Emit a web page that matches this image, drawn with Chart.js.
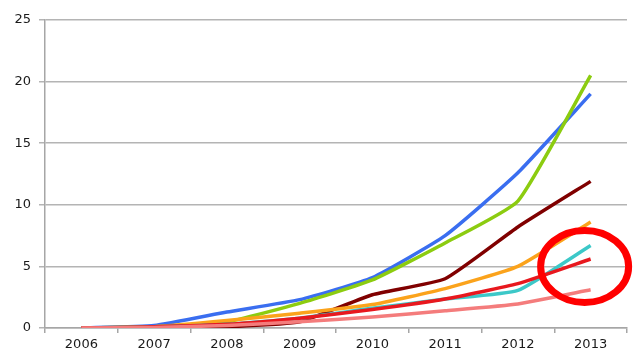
<!DOCTYPE html>
<html>
<head>
<meta charset="utf-8">
<script src="https://cdn.jsdelivr.net/npm/chart.js@4"></script>
<style>
  html, body { margin: 0; padding: 0; background: #fff; }
  #wrap { width: 640px; height: 360px; }
</style>
</head>
<body>
<div id="wrap"><canvas id="chart"></canvas></div>
<script>
const years = ["2006", "2007", "2008", "2009", "2010", "2011", "2012", "2013"];
const yTicks = [0, 5, 10, 15, 20, 25];

const pink = [0, 0.05, 0.2, 0.5, 0.9, 1.4, 1.95, 3.1];
const red = [0, 0.1, 0.3, 0.8, 1.5, 2.35, 3.6, 5.6];
const cyan = [0, 0.1, 0.3, 0.8, 1.6, 2.35, 3.05, 6.7];
const orange = [0, 0.1, 0.6, 1.2, 1.9, 3.2, 5.0, 8.6];
const darkRed = [0, 0, 0.1, 0.5, 2.7, 4.0, 8.2, 11.9];
const green = [0, 0.1, 0.5, 2.0, 3.9, 6.9, 10.3, 20.5];
const blue = [0, 0.2, 1.3, 2.3, 4.1, 7.5, 12.6, 19.0];

const line = (data, color) => ({
  data: data,
  borderColor: color,
  backgroundColor: color,
  borderWidth: 3.5,
  pointRadius: 0,
  tension: 0.15,
  fill: false,
});

// red circle drawn around the 2013 end of the lower lines
const circlePlugin = {
  id: "circle",
  afterDatasetsDraw(chart) {
    const { ctx, scales } = chart;
    const cx = scales.x.getPixelForValue(7) - 6;
    const cy = scales.y.getPixelForValue(5);
    ctx.save();
    ctx.strokeStyle = "#ff0000";
    ctx.lineWidth = 7;
    ctx.beginPath();
    ctx.ellipse(cx, cy, 44, 36, 0, 0, Math.PI * 2);
    ctx.stroke();
    ctx.restore();
  },
};

new Chart("chart", {
  type: "line",
  data: {
    labels: years,
    datasets: [
      line(pink, "#f47c7c"),
      line(red, "#e8181e"),
      line(cyan, "#3cc8c8"),
      line(orange, "#fba31c"),
      line(darkRed, "#800000"),
      line(green, "#8ccc10"),
      line(blue, "#3a6ef0"),
    ],
  },
  options: {
    responsive: true,
    maintainAspectRatio: false,
    animation: false,
    layout: { padding: { top: 20, right: 13, bottom: 0, left: 0 } },
    plugins: {
      legend: { display: false },
      tooltip: { enabled: false },
    },
    scales: {
      x: {
        offset: true,
        afterFit: (scale) => { scale.height = 32; },
        border: { color: "#a6a6a6", width: 1.5 },
        grid: {
          offset: true,
          drawOnChartArea: false,
          drawTicks: true,
          tickLength: 5,
          color: "#a6a6a6",
          lineWidth: 1.5,
        },
        ticks: {
          color: "#1a1a1a",
          padding: 4,
          font: { family: "DejaVu Sans", size: 13 },
        },
      },
      y: {
        min: 0,
        max: 25,
        afterFit: (scale) => { scale.width = 45; },
        afterBuildTicks: (scale) => {
          scale.ticks = yTicks.map((v) => ({ value: v }));
        },
        border: { color: "#a6a6a6", width: 1.5 },
        grid: {
          color: "#b4b4b4",
          lineWidth: 1.5,
          tickLength: 6,
        },
        ticks: {
          color: "#1a1a1a",
          padding: 8,
          font: { family: "DejaVu Sans", size: 13 },
        },
      },
    },
  },
  plugins: [circlePlugin],
});
</script>
</body>
</html>
